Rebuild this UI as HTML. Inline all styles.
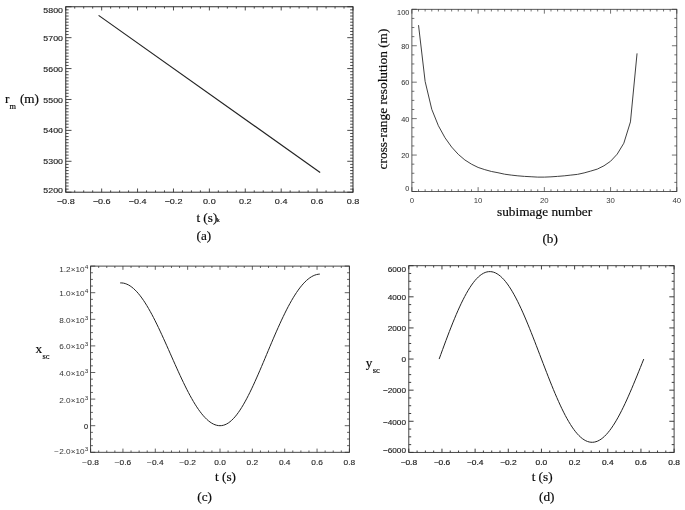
<!DOCTYPE html>
<html><head><meta charset="utf-8"><title>figure</title>
<style>
html,body{margin:0;padding:0;background:#fff;}
svg{display:block;}
.tk{font-family:"Liberation Sans","DejaVu Sans",sans-serif;}
.sf{font-family:"Liberation Serif","DejaVu Serif",serif;fill:#0a0a0a;stroke:#0a0a0a;stroke-width:0.18px;}
</style></head><body>
<svg width="685" height="510" viewBox="0 0 685 510">
<rect width="685" height="510" fill="#fff"/>
<rect x="65.75" y="6.75" width="287.25" height="185.45" fill="none" stroke="#2c2c2c" stroke-width="1.0"/>
<path d="M65.75 192.2v-3.71M65.75 6.75v3.71M74.73 192.2v-1.85M74.73 6.75v1.85M83.70 192.2v-1.85M83.70 6.75v1.85M92.68 192.2v-1.85M92.68 6.75v1.85M101.66 192.2v-3.71M101.66 6.75v3.71M110.63 192.2v-1.85M110.63 6.75v1.85M119.61 192.2v-1.85M119.61 6.75v1.85M128.59 192.2v-1.85M128.59 6.75v1.85M137.56 192.2v-3.71M137.56 6.75v3.71M146.54 192.2v-1.85M146.54 6.75v1.85M155.52 192.2v-1.85M155.52 6.75v1.85M164.49 192.2v-1.85M164.49 6.75v1.85M173.47 192.2v-3.71M173.47 6.75v3.71M182.45 192.2v-1.85M182.45 6.75v1.85M191.42 192.2v-1.85M191.42 6.75v1.85M200.40 192.2v-1.85M200.40 6.75v1.85M209.38 192.2v-3.71M209.38 6.75v3.71M218.35 192.2v-1.85M218.35 6.75v1.85M227.33 192.2v-1.85M227.33 6.75v1.85M236.30 192.2v-1.85M236.30 6.75v1.85M245.28 192.2v-3.71M245.28 6.75v3.71M254.26 192.2v-1.85M254.26 6.75v1.85M263.23 192.2v-1.85M263.23 6.75v1.85M272.21 192.2v-1.85M272.21 6.75v1.85M281.19 192.2v-3.71M281.19 6.75v3.71M290.16 192.2v-1.85M290.16 6.75v1.85M299.14 192.2v-1.85M299.14 6.75v1.85M308.12 192.2v-1.85M308.12 6.75v1.85M317.09 192.2v-3.71M317.09 6.75v3.71M326.07 192.2v-1.85M326.07 6.75v1.85M335.05 192.2v-1.85M335.05 6.75v1.85M344.02 192.2v-1.85M344.02 6.75v1.85M353.00 192.2v-3.71M353.00 6.75v3.71M65.75 6.75h5.75M353.0 6.75h-5.75M65.75 9.84h2.87M353.0 9.84h-2.87M65.75 12.93h2.87M353.0 12.93h-2.87M65.75 16.02h2.87M353.0 16.02h-2.87M65.75 19.11h2.87M353.0 19.11h-2.87M65.75 22.20h2.87M353.0 22.20h-2.87M65.75 25.29h2.87M353.0 25.29h-2.87M65.75 28.39h2.87M353.0 28.39h-2.87M65.75 31.48h2.87M353.0 31.48h-2.87M65.75 34.57h2.87M353.0 34.57h-2.87M65.75 37.66h5.75M353.0 37.66h-5.75M65.75 40.75h2.87M353.0 40.75h-2.87M65.75 43.84h2.87M353.0 43.84h-2.87M65.75 46.93h2.87M353.0 46.93h-2.87M65.75 50.02h2.87M353.0 50.02h-2.87M65.75 53.11h2.87M353.0 53.11h-2.87M65.75 56.20h2.87M353.0 56.20h-2.87M65.75 59.29h2.87M353.0 59.29h-2.87M65.75 62.38h2.87M353.0 62.38h-2.87M65.75 65.48h2.87M353.0 65.48h-2.87M65.75 68.57h5.75M353.0 68.57h-5.75M65.75 71.66h2.87M353.0 71.66h-2.87M65.75 74.75h2.87M353.0 74.75h-2.87M65.75 77.84h2.87M353.0 77.84h-2.87M65.75 80.93h2.87M353.0 80.93h-2.87M65.75 84.02h2.87M353.0 84.02h-2.87M65.75 87.11h2.87M353.0 87.11h-2.87M65.75 90.20h2.87M353.0 90.20h-2.87M65.75 93.29h2.87M353.0 93.29h-2.87M65.75 96.38h2.87M353.0 96.38h-2.87M65.75 99.47h5.75M353.0 99.47h-5.75M65.75 102.57h2.87M353.0 102.57h-2.87M65.75 105.66h2.87M353.0 105.66h-2.87M65.75 108.75h2.87M353.0 108.75h-2.87M65.75 111.84h2.87M353.0 111.84h-2.87M65.75 114.93h2.87M353.0 114.93h-2.87M65.75 118.02h2.87M353.0 118.02h-2.87M65.75 121.11h2.87M353.0 121.11h-2.87M65.75 124.20h2.87M353.0 124.20h-2.87M65.75 127.29h2.87M353.0 127.29h-2.87M65.75 130.38h5.75M353.0 130.38h-5.75M65.75 133.47h2.87M353.0 133.47h-2.87M65.75 136.56h2.87M353.0 136.56h-2.87M65.75 139.66h2.87M353.0 139.66h-2.87M65.75 142.75h2.87M353.0 142.75h-2.87M65.75 145.84h2.87M353.0 145.84h-2.87M65.75 148.93h2.87M353.0 148.93h-2.87M65.75 152.02h2.87M353.0 152.02h-2.87M65.75 155.11h2.87M353.0 155.11h-2.87M65.75 158.20h2.87M353.0 158.20h-2.87M65.75 161.29h5.75M353.0 161.29h-5.75M65.75 164.38h2.87M353.0 164.38h-2.87M65.75 167.47h2.87M353.0 167.47h-2.87M65.75 170.56h2.87M353.0 170.56h-2.87M65.75 173.66h2.87M353.0 173.66h-2.87M65.75 176.75h2.87M353.0 176.75h-2.87M65.75 179.84h2.87M353.0 179.84h-2.87M65.75 182.93h2.87M353.0 182.93h-2.87M65.75 186.02h2.87M353.0 186.02h-2.87M65.75 189.11h2.87M353.0 189.11h-2.87M65.75 192.20h5.75M353.0 192.20h-5.75" stroke="#2c2c2c" stroke-width="0.85" fill="none"/>
<polyline points="98.60,15.40 320.15,172.42" fill="none" stroke="#222" stroke-width="1.15" stroke-linejoin="round"/>
<text transform="translate(62.95,192.80) scale(1.26,1)" font-size="7.0" text-anchor="end" fill="#222" stroke="#222" stroke-width="0.13" class="tk">5200</text>
<text transform="translate(62.95,164.39) scale(1.26,1)" font-size="7.0" text-anchor="end" fill="#222" stroke="#222" stroke-width="0.13" class="tk">5300</text>
<text transform="translate(62.95,133.48) scale(1.26,1)" font-size="7.0" text-anchor="end" fill="#222" stroke="#222" stroke-width="0.13" class="tk">5400</text>
<text transform="translate(62.95,102.57) scale(1.26,1)" font-size="7.0" text-anchor="end" fill="#222" stroke="#222" stroke-width="0.13" class="tk">5500</text>
<text transform="translate(62.95,71.67) scale(1.26,1)" font-size="7.0" text-anchor="end" fill="#222" stroke="#222" stroke-width="0.13" class="tk">5600</text>
<text transform="translate(62.95,40.76) scale(1.26,1)" font-size="7.0" text-anchor="end" fill="#222" stroke="#222" stroke-width="0.13" class="tk">5700</text>
<text transform="translate(62.95,13.15) scale(1.26,1)" font-size="7.0" text-anchor="end" fill="#222" stroke="#222" stroke-width="0.13" class="tk">5800</text>
<text transform="translate(65.75,204.20) scale(1.3,1)" font-size="7.0" text-anchor="middle" fill="#222" stroke="#222" stroke-width="0.13" class="tk">−0.8</text>
<text transform="translate(101.66,204.20) scale(1.3,1)" font-size="7.0" text-anchor="middle" fill="#222" stroke="#222" stroke-width="0.13" class="tk">−0.6</text>
<text transform="translate(137.56,204.20) scale(1.3,1)" font-size="7.0" text-anchor="middle" fill="#222" stroke="#222" stroke-width="0.13" class="tk">−0.4</text>
<text transform="translate(173.47,204.20) scale(1.3,1)" font-size="7.0" text-anchor="middle" fill="#222" stroke="#222" stroke-width="0.13" class="tk">−0.2</text>
<text transform="translate(209.38,204.20) scale(1.3,1)" font-size="7.0" text-anchor="middle" fill="#222" stroke="#222" stroke-width="0.13" class="tk">0.0</text>
<text transform="translate(245.28,204.20) scale(1.3,1)" font-size="7.0" text-anchor="middle" fill="#222" stroke="#222" stroke-width="0.13" class="tk">0.2</text>
<text transform="translate(281.19,204.20) scale(1.3,1)" font-size="7.0" text-anchor="middle" fill="#222" stroke="#222" stroke-width="0.13" class="tk">0.4</text>
<text transform="translate(317.09,204.20) scale(1.3,1)" font-size="7.0" text-anchor="middle" fill="#222" stroke="#222" stroke-width="0.13" class="tk">0.6</text>
<text transform="translate(353.00,204.20) scale(1.3,1)" font-size="7.0" text-anchor="middle" fill="#222" stroke="#222" stroke-width="0.13" class="tk">0.8</text>
<text x="196.4" y="222.0" font-size="13.2" text-anchor="start" class="sf" >t (s)</text>
<text x="216.7" y="221.6" font-size="6" class="sf">k</text>
<text x="196.5" y="240.2" font-size="13.2" text-anchor="start" class="sf" >(a)</text>
<text x="5" y="102.5" font-size="13.2" class="sf">r<tspan dy="6" font-size="8.3">m</tspan><tspan dy="-6" dx="0.8"> (m)</tspan></text>
<rect x="411.9" y="9.3" width="264.90" height="182.20" fill="none" stroke="#383838" stroke-width="0.82"/>
<path d="M411.90 191.5v-4.37M411.90 9.3v4.37M418.52 191.5v-2.19M418.52 9.3v2.19M425.14 191.5v-2.19M425.14 9.3v2.19M431.77 191.5v-2.19M431.77 9.3v2.19M438.39 191.5v-2.19M438.39 9.3v2.19M445.01 191.5v-2.19M445.01 9.3v2.19M451.63 191.5v-2.19M451.63 9.3v2.19M458.26 191.5v-2.19M458.26 9.3v2.19M464.88 191.5v-2.19M464.88 9.3v2.19M471.50 191.5v-2.19M471.50 9.3v2.19M478.12 191.5v-4.37M478.12 9.3v4.37M484.75 191.5v-2.19M484.75 9.3v2.19M491.37 191.5v-2.19M491.37 9.3v2.19M497.99 191.5v-2.19M497.99 9.3v2.19M504.61 191.5v-2.19M504.61 9.3v2.19M511.24 191.5v-2.19M511.24 9.3v2.19M517.86 191.5v-2.19M517.86 9.3v2.19M524.48 191.5v-2.19M524.48 9.3v2.19M531.11 191.5v-2.19M531.11 9.3v2.19M537.73 191.5v-2.19M537.73 9.3v2.19M544.35 191.5v-4.37M544.35 9.3v4.37M550.97 191.5v-2.19M550.97 9.3v2.19M557.60 191.5v-2.19M557.60 9.3v2.19M564.22 191.5v-2.19M564.22 9.3v2.19M570.84 191.5v-2.19M570.84 9.3v2.19M577.46 191.5v-2.19M577.46 9.3v2.19M584.09 191.5v-2.19M584.09 9.3v2.19M590.71 191.5v-2.19M590.71 9.3v2.19M597.33 191.5v-2.19M597.33 9.3v2.19M603.95 191.5v-2.19M603.95 9.3v2.19M610.57 191.5v-4.37M610.57 9.3v4.37M617.20 191.5v-2.19M617.20 9.3v2.19M623.82 191.5v-2.19M623.82 9.3v2.19M630.44 191.5v-2.19M630.44 9.3v2.19M637.06 191.5v-2.19M637.06 9.3v2.19M643.69 191.5v-2.19M643.69 9.3v2.19M650.31 191.5v-2.19M650.31 9.3v2.19M656.93 191.5v-2.19M656.93 9.3v2.19M663.55 191.5v-2.19M663.55 9.3v2.19M670.18 191.5v-2.19M670.18 9.3v2.19M676.80 191.5v-4.37M676.80 9.3v4.37M411.9 9.30h4.90M676.8 9.30h-4.90M411.9 18.41h2.45M676.8 18.41h-2.45M411.9 27.52h2.45M676.8 27.52h-2.45M411.9 36.63h2.45M676.8 36.63h-2.45M411.9 45.74h4.90M676.8 45.74h-4.90M411.9 54.85h2.45M676.8 54.85h-2.45M411.9 63.96h2.45M676.8 63.96h-2.45M411.9 73.07h2.45M676.8 73.07h-2.45M411.9 82.18h4.90M676.8 82.18h-4.90M411.9 91.29h2.45M676.8 91.29h-2.45M411.9 100.40h2.45M676.8 100.40h-2.45M411.9 109.51h2.45M676.8 109.51h-2.45M411.9 118.62h4.90M676.8 118.62h-4.90M411.9 127.73h2.45M676.8 127.73h-2.45M411.9 136.84h2.45M676.8 136.84h-2.45M411.9 145.95h2.45M676.8 145.95h-2.45M411.9 155.06h4.90M676.8 155.06h-4.90M411.9 164.17h2.45M676.8 164.17h-2.45M411.9 173.28h2.45M676.8 173.28h-2.45M411.9 182.39h2.45M676.8 182.39h-2.45M411.9 191.50h4.90M676.8 191.50h-4.90" stroke="#383838" stroke-width="0.70" fill="none"/>
<polyline points="418.52,25.15 425.14,81.45 431.77,109.33 438.39,125.73 445.01,137.75 451.63,147.04 458.26,154.33 464.88,159.98 471.50,164.17 478.12,167.45 484.75,169.64 491.37,171.46 497.99,172.73 504.61,174.19 511.24,175.10 517.86,175.83 524.48,176.38 531.11,176.74 537.73,177.11 544.35,177.11 550.97,176.83 557.60,176.38 564.22,175.83 570.84,175.10 577.46,174.37 584.09,172.92 590.71,171.09 597.33,169.09 603.95,165.81 610.57,161.25 617.20,154.15 623.82,143.22 630.44,121.90 637.06,53.39" fill="none" stroke="#2a2a2a" stroke-width="0.9" stroke-linejoin="round"/>
<text transform="translate(409.30,191.40) scale(1.05,1)" font-size="7.0" text-anchor="end" fill="#333" stroke="#333" stroke-width="0.03" class="tk">0</text>
<text transform="translate(409.30,158.26) scale(1.05,1)" font-size="7.0" text-anchor="end" fill="#333" stroke="#333" stroke-width="0.03" class="tk">20</text>
<text transform="translate(409.30,121.82) scale(1.05,1)" font-size="7.0" text-anchor="end" fill="#333" stroke="#333" stroke-width="0.03" class="tk">40</text>
<text transform="translate(409.30,85.38) scale(1.05,1)" font-size="7.0" text-anchor="end" fill="#333" stroke="#333" stroke-width="0.03" class="tk">60</text>
<text transform="translate(409.30,48.94) scale(1.05,1)" font-size="7.0" text-anchor="end" fill="#333" stroke="#333" stroke-width="0.03" class="tk">80</text>
<text transform="translate(409.30,15.00) scale(1.05,1)" font-size="7.0" text-anchor="end" fill="#333" stroke="#333" stroke-width="0.03" class="tk">100</text>
<text transform="translate(411.90,202.70) scale(1.22,1)" font-size="6.4" text-anchor="middle" fill="#3a3a3a" stroke="#3a3a3a" stroke-width="0" class="tk">0</text>
<text transform="translate(478.12,202.70) scale(1.22,1)" font-size="6.4" text-anchor="middle" fill="#3a3a3a" stroke="#3a3a3a" stroke-width="0" class="tk">10</text>
<text transform="translate(544.35,202.70) scale(1.22,1)" font-size="6.4" text-anchor="middle" fill="#3a3a3a" stroke="#3a3a3a" stroke-width="0" class="tk">20</text>
<text transform="translate(610.57,202.70) scale(1.22,1)" font-size="6.4" text-anchor="middle" fill="#3a3a3a" stroke="#3a3a3a" stroke-width="0" class="tk">30</text>
<text transform="translate(676.80,202.70) scale(1.22,1)" font-size="6.4" text-anchor="middle" fill="#3a3a3a" stroke="#3a3a3a" stroke-width="0" class="tk">40</text>
<text x="544.6" y="216" font-size="13.35" text-anchor="middle" class="sf" >subimage number</text>
<text x="550.1" y="243.0" font-size="13.2" text-anchor="middle" class="sf" >(b)</text>
<text transform="translate(387.0,99.0) rotate(-90)" font-size="13.35" text-anchor="middle" class="sf">cross-range resolution (m)</text>
<rect x="90.6" y="266.1" width="258.80" height="186.20" fill="none" stroke="#333" stroke-width="0.9"/>
<path d="M90.60 452.3v-3.72M90.60 266.1v3.72M98.69 452.3v-1.86M98.69 266.1v1.86M106.77 452.3v-1.86M106.77 266.1v1.86M114.86 452.3v-1.86M114.86 266.1v1.86M122.95 452.3v-3.72M122.95 266.1v3.72M131.04 452.3v-1.86M131.04 266.1v1.86M139.12 452.3v-1.86M139.12 266.1v1.86M147.21 452.3v-1.86M147.21 266.1v1.86M155.30 452.3v-3.72M155.30 266.1v3.72M163.39 452.3v-1.86M163.39 266.1v1.86M171.47 452.3v-1.86M171.47 266.1v1.86M179.56 452.3v-1.86M179.56 266.1v1.86M187.65 452.3v-3.72M187.65 266.1v3.72M195.74 452.3v-1.86M195.74 266.1v1.86M203.82 452.3v-1.86M203.82 266.1v1.86M211.91 452.3v-1.86M211.91 266.1v1.86M220.00 452.3v-3.72M220.00 266.1v3.72M228.09 452.3v-1.86M228.09 266.1v1.86M236.17 452.3v-1.86M236.17 266.1v1.86M244.26 452.3v-1.86M244.26 266.1v1.86M252.35 452.3v-3.72M252.35 266.1v3.72M260.44 452.3v-1.86M260.44 266.1v1.86M268.52 452.3v-1.86M268.52 266.1v1.86M276.61 452.3v-1.86M276.61 266.1v1.86M284.70 452.3v-3.72M284.70 266.1v3.72M292.79 452.3v-1.86M292.79 266.1v1.86M300.88 452.3v-1.86M300.88 266.1v1.86M308.96 452.3v-1.86M308.96 266.1v1.86M317.05 452.3v-3.72M317.05 266.1v3.72M325.14 452.3v-1.86M325.14 266.1v1.86M333.22 452.3v-1.86M333.22 266.1v1.86M341.31 452.3v-1.86M341.31 266.1v1.86M349.40 452.3v-3.72M349.40 266.1v3.72M90.6 266.10h4.66M349.4 266.10h-4.66M90.6 272.75h2.33M349.4 272.75h-2.33M90.6 279.40h2.33M349.4 279.40h-2.33M90.6 286.05h2.33M349.4 286.05h-2.33M90.6 292.70h4.66M349.4 292.70h-4.66M90.6 299.35h2.33M349.4 299.35h-2.33M90.6 306.00h2.33M349.4 306.00h-2.33M90.6 312.65h2.33M349.4 312.65h-2.33M90.6 319.30h4.66M349.4 319.30h-4.66M90.6 325.95h2.33M349.4 325.95h-2.33M90.6 332.60h2.33M349.4 332.60h-2.33M90.6 339.25h2.33M349.4 339.25h-2.33M90.6 345.90h4.66M349.4 345.90h-4.66M90.6 352.55h2.33M349.4 352.55h-2.33M90.6 359.20h2.33M349.4 359.20h-2.33M90.6 365.85h2.33M349.4 365.85h-2.33M90.6 372.50h4.66M349.4 372.50h-4.66M90.6 379.15h2.33M349.4 379.15h-2.33M90.6 385.80h2.33M349.4 385.80h-2.33M90.6 392.45h2.33M349.4 392.45h-2.33M90.6 399.10h4.66M349.4 399.10h-4.66M90.6 405.75h2.33M349.4 405.75h-2.33M90.6 412.40h2.33M349.4 412.40h-2.33M90.6 419.05h2.33M349.4 419.05h-2.33M90.6 425.70h4.66M349.4 425.70h-4.66M90.6 432.35h2.33M349.4 432.35h-2.33M90.6 439.00h2.33M349.4 439.00h-2.33M90.6 445.65h2.33M349.4 445.65h-2.33M90.6 452.30h4.66M349.4 452.30h-4.66" stroke="#333" stroke-width="0.77" fill="none"/>
<polyline points="120.20,282.91 121.86,282.93 123.53,283.15 125.19,283.57 126.85,284.18 128.52,284.98 130.18,285.97 131.84,287.15 133.51,288.52 135.17,290.07 136.83,291.79 138.50,293.68 140.16,295.75 141.82,297.97 143.49,300.35 145.15,302.88 146.81,305.55 148.48,308.36 150.14,311.29 151.80,314.34 153.47,317.50 155.13,320.77 156.79,324.13 158.46,327.57 160.12,331.08 161.78,334.67 163.45,338.30 165.11,341.98 166.77,345.70 168.44,349.44 170.10,353.19 171.76,356.95 173.43,360.70 175.09,364.43 176.75,368.14 178.42,371.81 180.08,375.43 181.74,378.99 183.41,382.48 185.07,385.89 186.73,389.22 188.40,392.44 190.06,395.57 191.72,398.57 193.39,401.46 195.05,404.21 196.71,406.83 198.38,409.30 200.04,411.61 201.70,413.77 203.37,415.77 205.03,417.59 206.69,419.25 208.36,420.72 210.02,422.02 211.68,423.12 213.35,424.04 215.01,424.76 216.67,425.28 218.34,425.59 220.00,425.70 221.66,425.59 223.33,425.27 224.99,424.72 226.65,423.96 228.32,422.97 229.98,421.76 231.64,420.34 233.31,418.70 234.97,416.86 236.63,414.82 238.30,412.58 239.96,410.16 241.62,407.57 243.29,404.80 244.95,401.88 246.61,398.82 248.28,395.62 249.94,392.29 251.60,388.85 253.27,385.31 254.93,381.67 256.59,377.95 258.26,374.16 259.92,370.32 261.58,366.43 263.25,362.50 264.91,358.55 266.57,354.59 268.24,350.63 269.90,346.67 271.56,342.74 273.23,338.84 274.89,334.97 276.55,331.16 278.22,327.41 279.88,323.73 281.54,320.13 283.21,316.61 284.87,313.19 286.53,309.87 288.20,306.67 289.86,303.58 291.52,300.62 293.19,297.78 294.85,295.09 296.51,292.54 298.18,290.13 299.84,287.88 301.50,285.79 303.17,283.86 304.83,282.09 306.49,280.49 308.16,279.07 309.82,277.81 311.48,276.74 313.15,275.84 314.81,275.13 316.47,274.60 318.14,274.25 319.80,274.08" fill="none" stroke="#222" stroke-width="1.0" stroke-linejoin="round"/>
<text transform="translate(88.20,453.60) scale(1.25,1)" font-size="6.6" text-anchor="end" fill="#333" class="tk">−2.0×10<tspan dy="-3.0" font-size="5.15">3</tspan></text>
<text transform="translate(88.00,428.80) scale(1.05,1)" font-size="7.0" text-anchor="end" fill="#222" stroke="#222" stroke-width="0.13" class="tk">0</text>
<text transform="translate(88.20,402.50) scale(1.25,1)" font-size="6.6" text-anchor="end" fill="#333" class="tk">2.0×10<tspan dy="-3.0" font-size="5.15">3</tspan></text>
<text transform="translate(88.20,375.90) scale(1.25,1)" font-size="6.6" text-anchor="end" fill="#333" class="tk">4.0×10<tspan dy="-3.0" font-size="5.15">3</tspan></text>
<text transform="translate(88.20,349.30) scale(1.25,1)" font-size="6.6" text-anchor="end" fill="#333" class="tk">6.0×10<tspan dy="-3.0" font-size="5.15">3</tspan></text>
<text transform="translate(88.20,322.70) scale(1.25,1)" font-size="6.6" text-anchor="end" fill="#333" class="tk">8.0×10<tspan dy="-3.0" font-size="5.15">3</tspan></text>
<text transform="translate(88.20,296.10) scale(1.25,1)" font-size="6.6" text-anchor="end" fill="#333" class="tk">1.0×10<tspan dy="-3.0" font-size="5.15">4</tspan></text>
<text transform="translate(88.20,271.60) scale(1.25,1)" font-size="6.6" text-anchor="end" fill="#333" class="tk">1.2×10<tspan dy="-3.0" font-size="5.15">4</tspan></text>
<text transform="translate(90.60,464.60) scale(1.25,1)" font-size="6.7" text-anchor="middle" fill="#2a2a2a" stroke="#2a2a2a" stroke-width="0.12" class="tk">−0.8</text>
<text transform="translate(122.95,464.60) scale(1.25,1)" font-size="6.7" text-anchor="middle" fill="#2a2a2a" stroke="#2a2a2a" stroke-width="0.12" class="tk">−0.6</text>
<text transform="translate(155.30,464.60) scale(1.25,1)" font-size="6.7" text-anchor="middle" fill="#2a2a2a" stroke="#2a2a2a" stroke-width="0.12" class="tk">−0.4</text>
<text transform="translate(187.65,464.60) scale(1.25,1)" font-size="6.7" text-anchor="middle" fill="#2a2a2a" stroke="#2a2a2a" stroke-width="0.12" class="tk">−0.2</text>
<text transform="translate(220.00,464.60) scale(1.25,1)" font-size="6.7" text-anchor="middle" fill="#2a2a2a" stroke="#2a2a2a" stroke-width="0.12" class="tk">0.0</text>
<text transform="translate(252.35,464.60) scale(1.25,1)" font-size="6.7" text-anchor="middle" fill="#2a2a2a" stroke="#2a2a2a" stroke-width="0.12" class="tk">0.2</text>
<text transform="translate(284.70,464.60) scale(1.25,1)" font-size="6.7" text-anchor="middle" fill="#2a2a2a" stroke="#2a2a2a" stroke-width="0.12" class="tk">0.4</text>
<text transform="translate(317.05,464.60) scale(1.25,1)" font-size="6.7" text-anchor="middle" fill="#2a2a2a" stroke="#2a2a2a" stroke-width="0.12" class="tk">0.6</text>
<text transform="translate(349.40,464.60) scale(1.25,1)" font-size="6.7" text-anchor="middle" fill="#2a2a2a" stroke="#2a2a2a" stroke-width="0.12" class="tk">0.8</text>
<text x="225.5" y="480.5" font-size="13.2" text-anchor="middle" class="sf" >t (s)</text>
<text x="204.6" y="500.6" font-size="13.2" text-anchor="middle" class="sf" >(c)</text>
<text x="35.4" y="353.4" font-size="13.2" class="sf">x<tspan dy="5.2" dx="0.6" font-size="8.3">sc</tspan></text>
<rect x="408.8" y="265.7" width="265.30" height="186.70" fill="none" stroke="#333" stroke-width="0.9"/>
<path d="M408.80 452.4v-3.73M408.80 265.7v3.73M417.09 452.4v-1.87M417.09 265.7v1.87M425.38 452.4v-1.87M425.38 265.7v1.87M433.67 452.4v-1.87M433.67 265.7v1.87M441.96 452.4v-3.73M441.96 265.7v3.73M450.25 452.4v-1.87M450.25 265.7v1.87M458.54 452.4v-1.87M458.54 265.7v1.87M466.83 452.4v-1.87M466.83 265.7v1.87M475.12 452.4v-3.73M475.12 265.7v3.73M483.42 452.4v-1.87M483.42 265.7v1.87M491.71 452.4v-1.87M491.71 265.7v1.87M500.00 452.4v-1.87M500.00 265.7v1.87M508.29 452.4v-3.73M508.29 265.7v3.73M516.58 452.4v-1.87M516.58 265.7v1.87M524.87 452.4v-1.87M524.87 265.7v1.87M533.16 452.4v-1.87M533.16 265.7v1.87M541.45 452.4v-3.73M541.45 265.7v3.73M549.74 452.4v-1.87M549.74 265.7v1.87M558.03 452.4v-1.87M558.03 265.7v1.87M566.32 452.4v-1.87M566.32 265.7v1.87M574.61 452.4v-3.73M574.61 265.7v3.73M582.90 452.4v-1.87M582.90 265.7v1.87M591.19 452.4v-1.87M591.19 265.7v1.87M599.48 452.4v-1.87M599.48 265.7v1.87M607.78 452.4v-3.73M607.78 265.7v3.73M616.07 452.4v-1.87M616.07 265.7v1.87M624.36 452.4v-1.87M624.36 265.7v1.87M632.65 452.4v-1.87M632.65 265.7v1.87M640.94 452.4v-3.73M640.94 265.7v3.73M649.23 452.4v-1.87M649.23 265.7v1.87M657.52 452.4v-1.87M657.52 265.7v1.87M665.81 452.4v-1.87M665.81 265.7v1.87M674.10 452.4v-3.73M674.10 265.7v3.73M408.8 265.70h4.78M674.1 265.70h-4.78M408.8 273.48h2.39M674.1 273.48h-2.39M408.8 281.26h2.39M674.1 281.26h-2.39M408.8 289.04h2.39M674.1 289.04h-2.39M408.8 296.82h4.78M674.1 296.82h-4.78M408.8 304.60h2.39M674.1 304.60h-2.39M408.8 312.38h2.39M674.1 312.38h-2.39M408.8 320.15h2.39M674.1 320.15h-2.39M408.8 327.93h4.78M674.1 327.93h-4.78M408.8 335.71h2.39M674.1 335.71h-2.39M408.8 343.49h2.39M674.1 343.49h-2.39M408.8 351.27h2.39M674.1 351.27h-2.39M408.8 359.05h4.78M674.1 359.05h-4.78M408.8 366.83h2.39M674.1 366.83h-2.39M408.8 374.61h2.39M674.1 374.61h-2.39M408.8 382.39h2.39M674.1 382.39h-2.39M408.8 390.17h4.78M674.1 390.17h-4.78M408.8 397.95h2.39M674.1 397.95h-2.39M408.8 405.73h2.39M674.1 405.73h-2.39M408.8 413.50h2.39M674.1 413.50h-2.39M408.8 421.28h4.78M674.1 421.28h-4.78M408.8 429.06h2.39M674.1 429.06h-2.39M408.8 436.84h2.39M674.1 436.84h-2.39M408.8 444.62h2.39M674.1 444.62h-2.39M408.8 452.40h4.78M674.1 452.40h-4.78" stroke="#333" stroke-width="0.95" fill="none"/>
<polyline points="439.14,359.05 440.85,354.37 442.55,349.70 444.26,345.08 445.96,340.49 447.67,335.97 449.37,331.51 451.08,327.14 452.78,322.86 454.49,318.69 456.19,314.63 457.90,310.70 459.60,306.91 461.31,303.27 463.02,299.79 464.72,296.48 466.43,293.34 468.13,290.39 469.84,287.63 471.54,285.07 473.25,282.72 474.95,280.58 476.66,278.66 478.36,276.96 480.07,275.49 481.77,274.25 483.48,273.25 485.18,272.48 486.89,271.95 488.59,271.66 490.30,271.61 492.00,271.80 493.71,272.23 495.41,272.89 497.12,273.80 498.82,274.93 500.53,276.29 502.23,277.88 503.94,279.68 505.64,281.70 507.35,283.93 509.05,286.36 510.76,288.99 512.46,291.80 514.17,294.80 515.87,297.96 517.58,301.29 519.28,304.77 520.99,308.40 522.69,312.15 524.40,316.03 526.10,320.02 527.81,324.11 529.51,328.29 531.22,332.55 532.92,336.87 534.63,341.25 536.33,345.67 538.04,350.12 539.74,354.58 541.45,359.05 543.16,363.51 544.86,367.96 546.57,372.37 548.27,376.73 549.98,381.05 551.68,385.29 553.39,389.46 555.09,393.53 556.80,397.51 558.50,401.37 560.21,405.11 561.91,408.72 563.62,412.18 565.32,415.50 567.03,418.65 568.73,421.63 570.44,424.44 572.14,427.07 573.85,429.50 575.55,431.74 577.26,433.78 578.96,435.60 580.67,437.21 582.37,438.61 584.08,439.79 585.78,440.74 587.49,441.47 589.19,441.97 590.90,442.24 592.60,442.29 594.31,442.10 596.01,441.69 597.72,441.05 599.42,440.19 601.13,439.11 602.83,437.81 604.54,436.30 606.24,434.58 607.95,432.65 609.65,430.53 611.36,428.21 613.06,425.71 614.77,423.03 616.47,420.18 618.18,417.16 619.88,413.99 621.59,410.68 623.30,407.23 625.00,403.66 626.71,399.97 628.41,396.17 630.12,392.28 631.82,388.30 633.53,384.25 635.23,380.14 636.94,375.98 638.64,371.77 640.35,367.55 642.05,363.30 643.76,359.05" fill="none" stroke="#222" stroke-width="1.0" stroke-linejoin="round"/>
<text transform="translate(406.00,453.20) scale(1.18,1)" font-size="7.0" text-anchor="end" fill="#222" stroke="#222" stroke-width="0.13" class="tk">−6000</text>
<text transform="translate(406.00,424.58) scale(1.18,1)" font-size="7.0" text-anchor="end" fill="#222" stroke="#222" stroke-width="0.13" class="tk">−4000</text>
<text transform="translate(406.00,393.47) scale(1.18,1)" font-size="7.0" text-anchor="end" fill="#222" stroke="#222" stroke-width="0.13" class="tk">−2000</text>
<text transform="translate(406.00,362.35) scale(1.18,1)" font-size="7.0" text-anchor="end" fill="#222" stroke="#222" stroke-width="0.13" class="tk">0</text>
<text transform="translate(406.00,331.23) scale(1.18,1)" font-size="7.0" text-anchor="end" fill="#222" stroke="#222" stroke-width="0.13" class="tk">2000</text>
<text transform="translate(406.00,300.12) scale(1.18,1)" font-size="7.0" text-anchor="end" fill="#222" stroke="#222" stroke-width="0.13" class="tk">4000</text>
<text transform="translate(406.00,271.70) scale(1.18,1)" font-size="7.0" text-anchor="end" fill="#222" stroke="#222" stroke-width="0.13" class="tk">6000</text>
<text transform="translate(408.80,464.60) scale(1.22,1)" font-size="6.9" text-anchor="middle" fill="#222" stroke="#222" stroke-width="0.18" class="tk">−0.8</text>
<text transform="translate(441.96,464.60) scale(1.22,1)" font-size="6.9" text-anchor="middle" fill="#222" stroke="#222" stroke-width="0.18" class="tk">−0.6</text>
<text transform="translate(475.12,464.60) scale(1.22,1)" font-size="6.9" text-anchor="middle" fill="#222" stroke="#222" stroke-width="0.18" class="tk">−0.4</text>
<text transform="translate(508.29,464.60) scale(1.22,1)" font-size="6.9" text-anchor="middle" fill="#222" stroke="#222" stroke-width="0.18" class="tk">−0.2</text>
<text transform="translate(541.45,464.60) scale(1.22,1)" font-size="6.9" text-anchor="middle" fill="#222" stroke="#222" stroke-width="0.18" class="tk">0.0</text>
<text transform="translate(574.61,464.60) scale(1.22,1)" font-size="6.9" text-anchor="middle" fill="#222" stroke="#222" stroke-width="0.18" class="tk">0.2</text>
<text transform="translate(607.78,464.60) scale(1.22,1)" font-size="6.9" text-anchor="middle" fill="#222" stroke="#222" stroke-width="0.18" class="tk">0.4</text>
<text transform="translate(640.94,464.60) scale(1.22,1)" font-size="6.9" text-anchor="middle" fill="#222" stroke="#222" stroke-width="0.18" class="tk">0.6</text>
<text transform="translate(674.10,464.60) scale(1.22,1)" font-size="6.9" text-anchor="middle" fill="#222" stroke="#222" stroke-width="0.18" class="tk">0.8</text>
<text x="542.1" y="480.5" font-size="13.2" text-anchor="middle" class="sf" >t (s)</text>
<text x="546.7" y="500.7" font-size="13.2" text-anchor="middle" class="sf" >(d)</text>
<text x="365.8" y="367.3" font-size="13.2" class="sf">y<tspan dy="5.3" dx="0.4" font-size="8.3">sc</tspan></text>
</svg>
</body></html>
